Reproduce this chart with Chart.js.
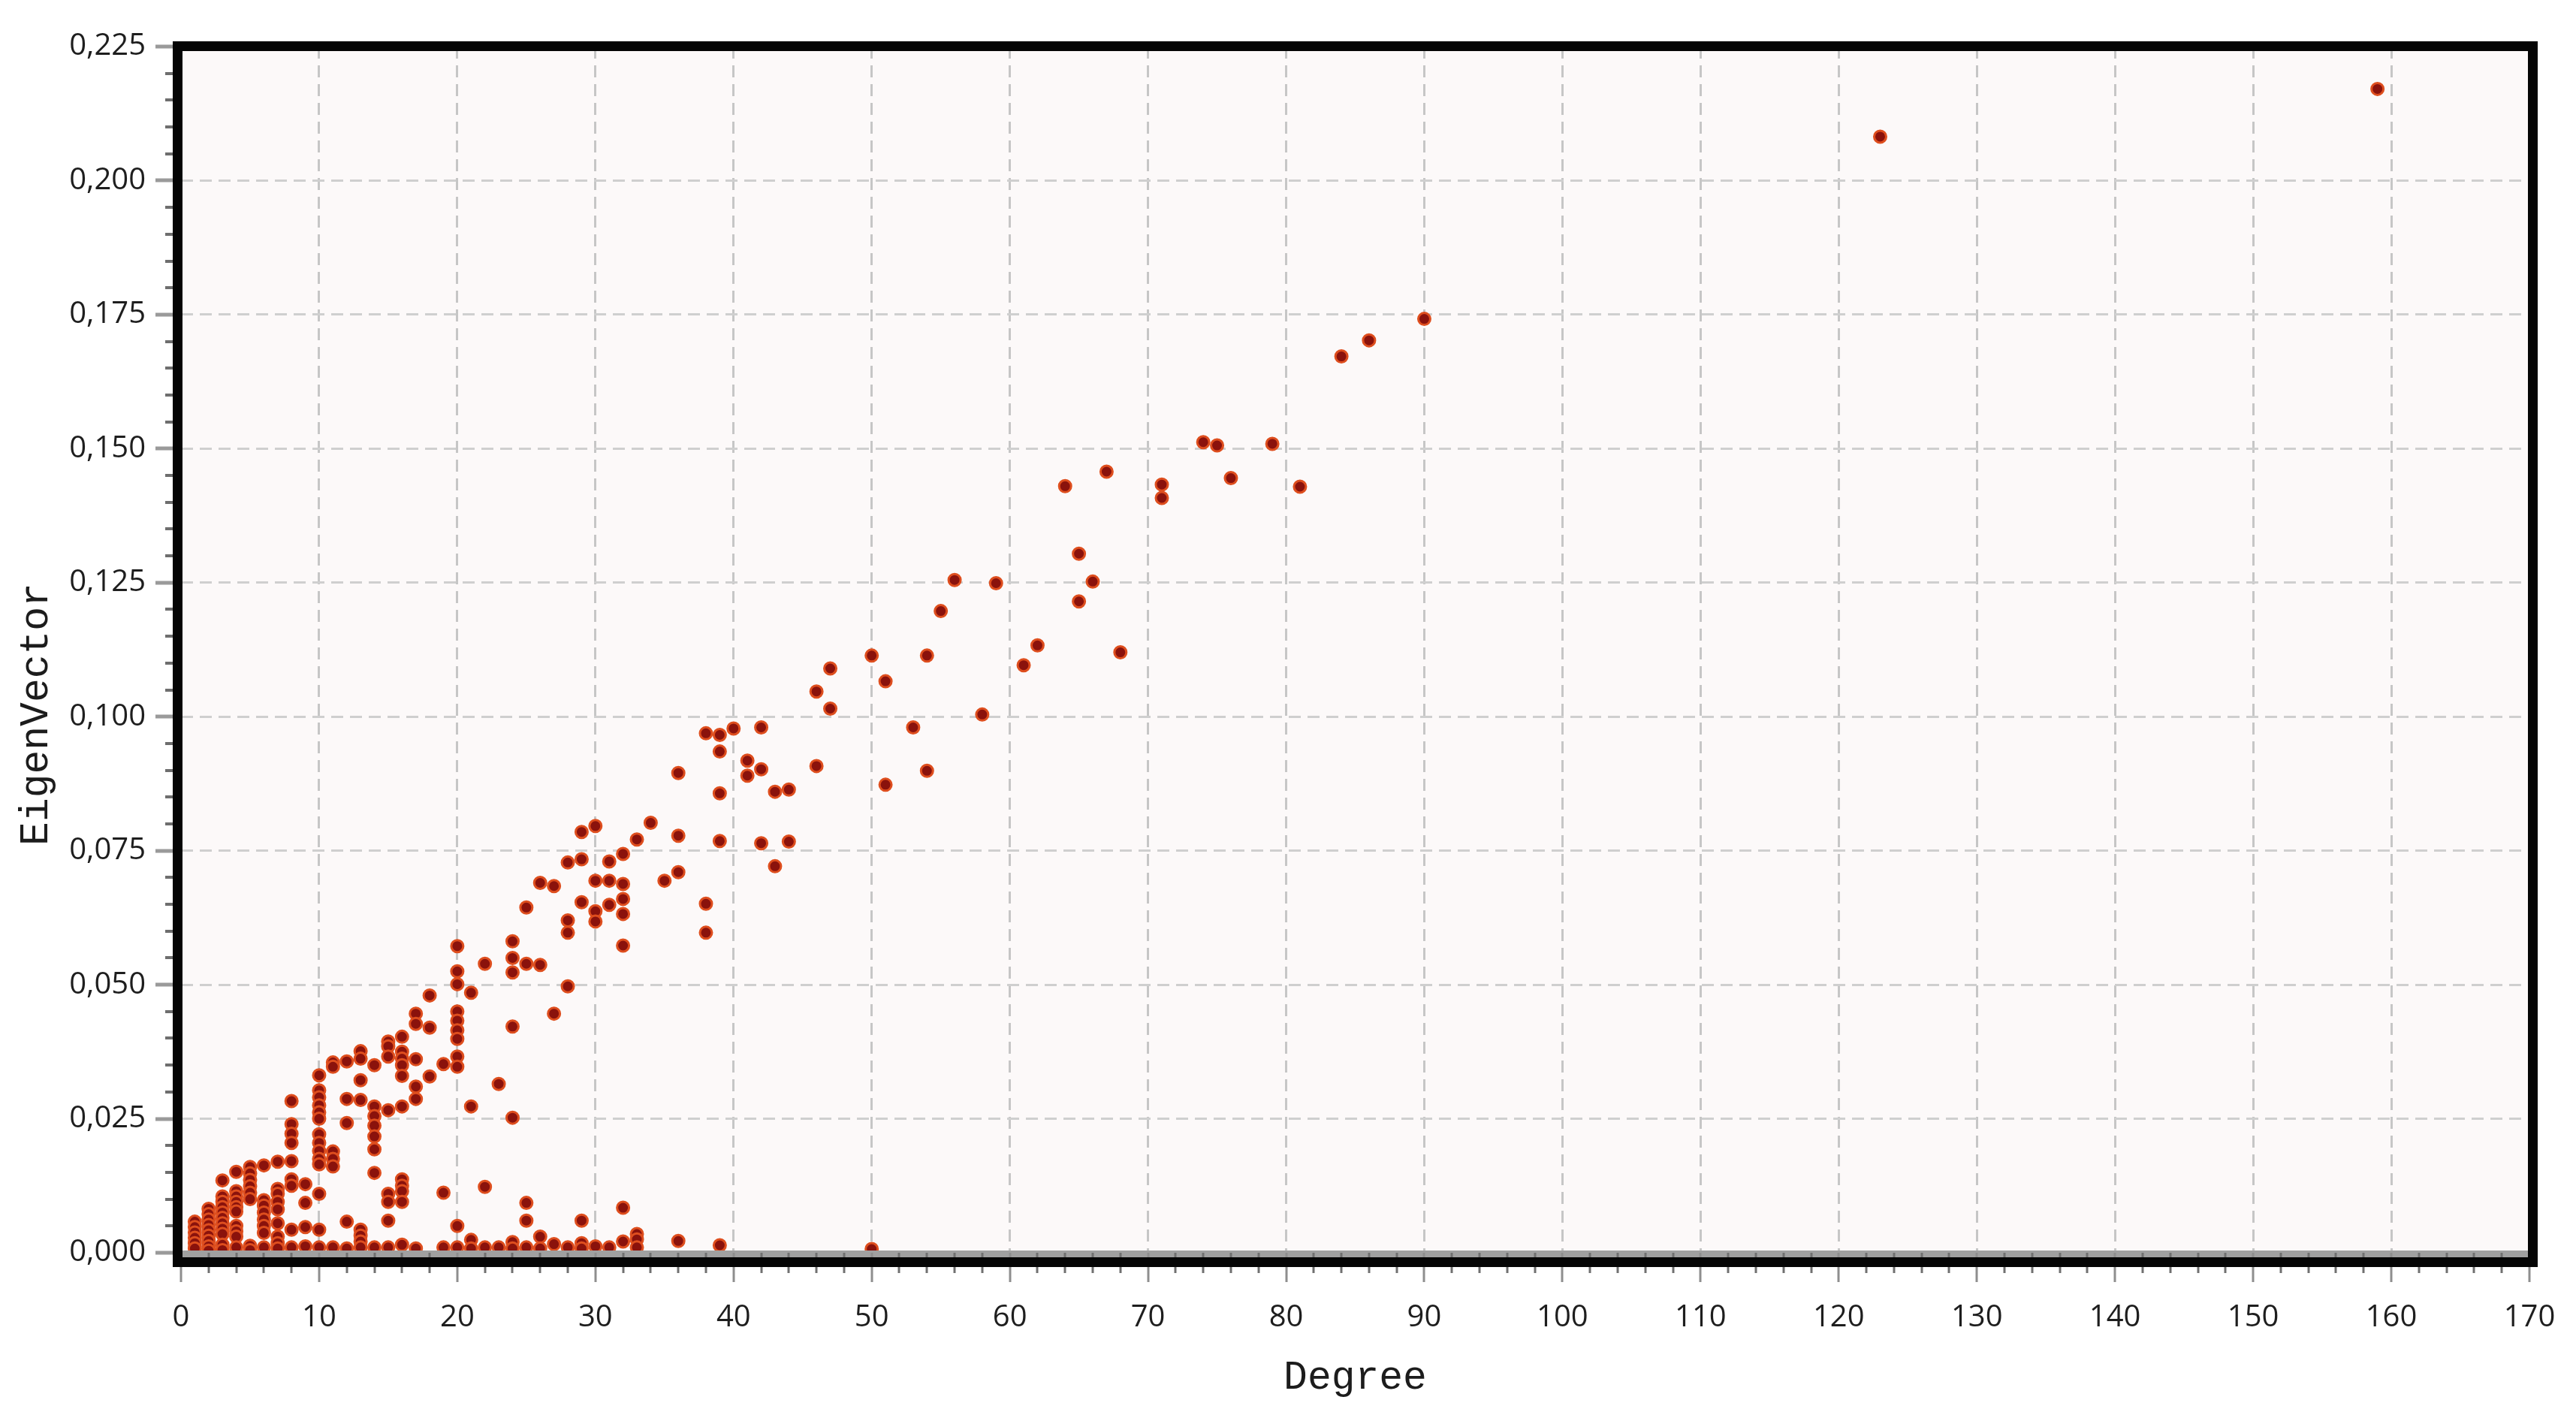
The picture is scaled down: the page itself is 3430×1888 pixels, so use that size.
<!DOCTYPE html>
<html>
<head>
<meta charset="utf-8">
<title>Degree vs EigenVector</title>
<script src="https://cdn.jsdelivr.net/npm/chart.js@4/dist/chart.umd.min.js"></script>
<style>
  html, body { margin: 0; padding: 0; background: #ffffff; }
  #wrap { width: 3430px; height: 1888px; }
</style>
</head>
<body>
<div id="wrap"><canvas id="scatterChart" width="3430" height="1888"></canvas></div>
<script>
// degree of each node group, and the eigenvector values read for that degree
const degrees = [
  1, 2, 3, 4, 5, 6, 7, 8, 9, 10,
  11, 12, 13, 14, 15, 16, 17, 18, 19, 20,
  21, 22, 23, 24, 25, 26, 27, 28, 29, 30,
  31, 32, 33, 34, 35, 36, 38, 39, 40, 41,
  42, 43, 44, 46, 47, 50, 51, 53, 54, 55,
  56, 58, 59, 61, 62, 64, 65, 66, 67, 68,
  71, 74, 75, 76, 79, 81, 84, 86, 90, 123,
  159,
];

const eigenByDegree = [
  [0.0058, 0.0048, 0.0038, 0.0028, 0.0018, 0.0008],
  [0.0082, 0.0072, 0.0062, 0.0052, 0.0042, 0.0032, 0.0022, 0.0012, 0.0004],
  [0.0135, 0.0105, 0.0095, 0.0085, 0.0075, 0.0065, 0.0055, 0.0045, 0.0035, 0.0015, 0.0005],
  [0.0151, 0.0115, 0.0105, 0.0095, 0.0085, 0.0077, 0.005, 0.004, 0.003, 0.001],
  [0.016, 0.0148, 0.0136, 0.0124, 0.0112, 0.01, 0.0013, 0.0005],
  [0.0163, 0.0098, 0.0088, 0.0075, 0.0062, 0.005, 0.0037, 0.001],
  [0.017, 0.0119, 0.011, 0.0095, 0.0081, 0.0055, 0.003, 0.0018, 0.0008],
  [0.0283, 0.024, 0.0222, 0.0205, 0.0171, 0.0137, 0.0125, 0.0043, 0.001],
  [0.0128, 0.0093, 0.0048, 0.0012],
  [0.0331, 0.0303, 0.029, 0.0275, 0.0262, 0.025, 0.0221, 0.0205, 0.019, 0.0175, 0.0165, 0.011, 0.0043, 0.001],
  [0.0355, 0.0347, 0.0189, 0.0175, 0.0161, 0.001],
  [0.0357, 0.0287, 0.0242, 0.0058, 0.0008],
  [0.0376, 0.0362, 0.0322, 0.0285, 0.0043, 0.0032, 0.0021, 0.001],
  [0.035, 0.0273, 0.0255, 0.0237, 0.0217, 0.0193, 0.0149, 0.001],
  [0.0394, 0.0385, 0.0366, 0.0266, 0.011, 0.0095, 0.006, 0.001],
  [0.0403, 0.0375, 0.0362, 0.035, 0.033, 0.0273, 0.0137, 0.0125, 0.0115, 0.0095, 0.0015],
  [0.0446, 0.0427, 0.0361, 0.031, 0.0287, 0.0008],
  [0.048, 0.042, 0.0329],
  [0.0352, 0.0112, 0.001],
  [0.0572, 0.0525, 0.0501, 0.045, 0.0433, 0.0415, 0.0399, 0.0366, 0.0347, 0.005, 0.001],
  [0.0485, 0.0273, 0.0024, 0.0008],
  [0.0539, 0.0123, 0.001],
  [0.0315, 0.001],
  [0.0581, 0.055, 0.0523, 0.0422, 0.0252, 0.002, 0.0008],
  [0.0644, 0.0539, 0.0093, 0.006, 0.001],
  [0.069, 0.0537, 0.003, 0.0008],
  [0.0684, 0.0446, 0.0016],
  [0.0728, 0.062, 0.0597, 0.0497, 0.001],
  [0.0785, 0.0734, 0.0654, 0.006, 0.0018, 0.0008],
  [0.0796, 0.0694, 0.0637, 0.0618, 0.0012],
  [0.073, 0.0694, 0.0649, 0.001],
  [0.0744, 0.0688, 0.066, 0.0632, 0.0573, 0.0084, 0.0021],
  [0.0771, 0.0035, 0.0025, 0.001],
  [0.0802],
  [0.0694],
  [0.0895, 0.0778, 0.071, 0.0022],
  [0.0969, 0.0651, 0.0597],
  [0.0966, 0.0935, 0.0857, 0.0768, 0.0014],
  [0.0978],
  [0.0918, 0.089],
  [0.098, 0.0902, 0.0764],
  [0.086, 0.0721],
  [0.0864, 0.0767],
  [0.1047, 0.0908],
  [0.109, 0.1015],
  [0.1114, 0.0007],
  [0.1066, 0.0873],
  [0.098],
  [0.1114, 0.0899],
  [0.1197],
  [0.1255],
  [0.1004],
  [0.1249],
  [0.1096],
  [0.1133],
  [0.143],
  [0.1304, 0.1215],
  [0.1252],
  [0.1457],
  [0.112],
  [0.1433, 0.1408],
  [0.1512],
  [0.1506],
  [0.1445],
  [0.1509],
  [0.1429],
  [0.1672],
  [0.1702],
  [0.1742],
  [0.2082],
  [0.2171],
];

const xTitle = "Degree";
const yTitle = "EigenVector";

const points = [];
degrees.forEach((d, i) => {
  eigenByDegree[i].forEach((v) => points.push({ x: d, y: v }));
});

function commaDecimal(v) {
  return v.toFixed(3).replace(".", ",");
}

// plot background, zero line, minor/major tick marks, thick frame, y title
const framePlugin = {
  id: "framePlugin",
  beforeDraw(chart) {
    const { ctx, chartArea: a } = chart;
    ctx.save();
    ctx.fillStyle = "#fcf9f9";
    ctx.fillRect(a.left, a.top, a.right - a.left, a.bottom - a.top);
    ctx.restore();
  },
  afterDatasetsDraw(chart) {
    const { ctx, chartArea: a } = chart;
    const x = chart.scales.x;
    const y = chart.scales.y;
    ctx.save();

    ctx.strokeStyle = "#a0a0a0";
    ctx.lineWidth = 9;
    ctx.beginPath();
    ctx.moveTo(a.left, a.bottom + 1.5);
    ctx.lineTo(a.right, a.bottom + 1.5);
    ctx.stroke();

    for (let v = 0; v <= 170; v += 2) {
      const px = Math.round(x.getPixelForValue(v));
      const major = v % 10 === 0;
      ctx.strokeStyle = major ? "#8e8e8e" : "#707070";
      ctx.lineWidth = 3;
      ctx.beginPath();
      ctx.moveTo(px, a.bottom);
      ctx.lineTo(px, a.bottom + (major ? 39 : 27));
      ctx.stroke();
    }

    for (let i = 0; i <= 45; i++) {
      const py = Math.round(y.getPixelForValue(i * 0.005));
      const major = i % 5 === 0;
      ctx.strokeStyle = major ? "#9a9a9a" : "#6e6e6e";
      ctx.lineWidth = major ? 5 : 4;
      ctx.beginPath();
      ctx.moveTo(a.left - (major ? 34 : 21), py);
      ctx.lineTo(a.left, py);
      ctx.stroke();
    }

    ctx.strokeStyle = "#050505";
    ctx.lineWidth = 13;
    ctx.lineJoin = "miter";
    const l = a.left - 4.5;
    const t = a.top - 0.5;
    const r = a.right + 4.5;
    const b = a.bottom + 12.5;
    ctx.strokeRect(l, t, r - l, b - t);

    ctx.translate(49, 951);
    ctx.rotate(-Math.PI / 2);
    ctx.font = "53px 'Liberation Mono'";
    ctx.fillStyle = "#1c1c1c";
    ctx.textAlign = "center";
    ctx.textBaseline = "middle";
    ctx.fillText(yTitle, 0, 0);
    ctx.restore();
  },
};

const ctx = document.getElementById("scatterChart");

const chart = new Chart(ctx, {
  type: "scatter",
  data: {
    datasets: [
      {
        label: "EigenVector",
        data: points,
        pointRadius: 8,
        pointHoverRadius: 8,
        borderWidth: 3,
        backgroundColor: "#8a120c",
        borderColor: "#de4e1e",
        clip: false,
      },
    ],
  },
  options: {
    responsive: false,
    devicePixelRatio: 1,
    animation: false,
    events: [],
    layout: {
      padding: { top: 62, right: 62, left: 0, bottom: 0 },
    },
    plugins: {
      legend: { display: false },
      tooltip: { enabled: false },
    },
    scales: {
      x: {
        type: "linear",
        min: 0,
        max: 170,
        afterFit: (s) => {
          s.height = 220;
          s.paddingLeft = 0;
          s.paddingRight = 0;
        },
        ticks: {
          stepSize: 10,
          autoSkip: false,
          maxRotation: 0,
          padding: 63,
          color: "#1e1e1e",
          font: { family: "'Open Sans'", size: 40 },
        },
        grid: {
          color: "#c6c6c6",
          lineWidth: 3,
          drawTicks: false,
        },
        border: { display: false, dash: [16, 9] },
        title: {
          display: true,
          text: xTitle,
          color: "#1c1c1c",
          font: { family: "'Liberation Mono'", size: 53 },
          padding: { top: 0, bottom: 21 },
        },
      },
      y: {
        type: "linear",
        min: 0,
        max: 0.225,
        afterFit: (s) => {
          s.width = 241;
          s.paddingTop = 0;
          s.paddingBottom = 0;
        },
        ticks: {
          stepSize: 0.025,
          autoSkip: false,
          padding: 47,
          color: "#1e1e1e",
          font: { family: "'Open Sans'", size: 40 },
          callback: (v) => commaDecimal(v),
        },
        grid: {
          color: "#cfcfcf",
          lineWidth: 3,
          drawTicks: false,
        },
        border: { display: false, dash: [16, 9] },
      },
    },
  },
  plugins: [framePlugin],
});
</script>
</body>
</html>
